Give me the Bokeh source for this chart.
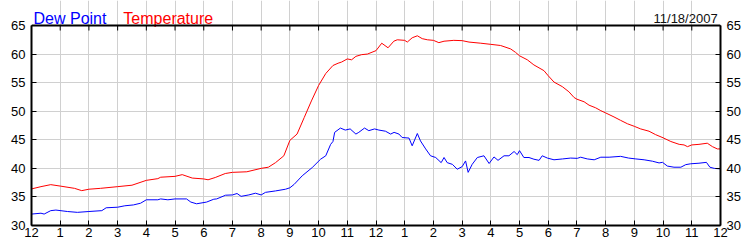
from bokeh.plotting import figure
from bokeh.models import LinearAxis, FixedTicker, Range1d, Span, ColumnDataSource
from bokeh.core.properties import value
from bokeh.embed import file_html
from bokeh.resources import INLINE

# Hours since midnight (11/18/2007) and readings (deg F)
temp_hours = [0.0, 0.33, 0.67, 1.0, 1.5, 1.75, 2.0, 2.4, 3.0, 3.5, 4.0, 4.4, 4.5, 5.0, 5.25,
              5.6, 6.0, 6.15, 6.4, 6.75, 7.0, 7.5, 8.0, 8.25, 8.5, 8.79, 9.0, 9.25, 9.5, 9.75,
              10.0, 10.25, 10.5, 10.68, 10.8, 11.0, 11.15, 11.3, 11.5, 11.7, 12.0, 12.2, 12.42,
              12.62, 12.74, 13.0, 13.09, 13.26, 13.44, 13.61, 13.79, 14.0, 14.19, 14.37, 14.71,
              15.0, 15.24, 15.65, 16.0, 16.34, 16.69, 16.86, 17.0, 17.27, 17.5, 17.85, 18.0,
              18.2, 18.49, 18.72, 18.9, 19.0, 19.25, 19.42, 19.65, 19.83, 20.0, 20.29, 20.52,
              20.76, 21.0, 21.22, 21.51, 21.74, 22.0, 22.27, 22.56, 22.73, 22.85, 23.0, 23.25,
              23.54, 23.72, 23.89, 24.0]
temperature = [36.4, 36.8, 37.15, 36.9, 36.5, 36.1, 36.35, 36.5, 36.8, 37.05, 37.9, 38.2, 38.45,
               38.6, 38.9, 38.3, 38.15, 38.0, 38.4, 39.1, 39.3, 39.4, 40.0, 40.2, 41.0, 42.2,
               44.9, 46.0, 48.9, 51.8, 54.5, 56.6, 58.0, 58.4, 58.6, 59.15, 59.0, 59.6, 59.9,
               60.0, 60.6, 61.9, 61.1, 62.25, 62.5, 62.4, 62.1, 62.85, 63.2, 62.7, 62.5, 62.4,
               62.0, 62.25, 62.4, 62.35, 62.1, 61.9, 61.7, 61.5, 60.9, 60.3, 59.7, 59.0, 58.1,
               57.1, 56.2, 55.1, 54.3, 53.4, 52.4, 52.1, 51.65, 51.06, 50.6, 50.1, 49.7, 49.0,
               48.4, 47.8, 47.35, 46.9, 46.5, 45.9, 45.35, 44.7, 44.2, 44.1, 43.8, 44.1, 44.2,
               44.4, 43.8, 43.4, 43.4]

dew_hours = [0.0, 0.33, 0.44, 0.67, 0.85, 1.25, 1.6, 2.0, 2.45, 2.6, 3.0, 3.25, 3.55, 3.8, 4.0,
             4.4, 4.5, 4.75, 5.0, 5.4, 5.55, 5.75, 6.1, 6.35, 6.45, 6.76, 7.0, 7.16, 7.3, 7.57,
             7.8, 8.0, 8.15, 8.5, 8.85, 9.0, 9.15, 9.43, 9.78, 10.07, 10.25, 10.42, 10.5, 10.56,
             10.76, 10.93, 11.1, 11.3, 11.4, 11.6, 11.75, 11.95, 12.1, 12.33, 12.51, 12.63,
             12.8, 12.91, 13.15, 13.26, 13.44, 13.55, 13.73, 13.9, 14.08, 14.27, 14.37, 14.48,
             14.66, 14.83, 15.0, 15.12, 15.21, 15.35, 15.53, 15.76, 15.94, 16.11, 16.25, 16.46,
             16.63, 16.81, 16.92, 17.0, 17.15, 17.33, 17.5, 17.68, 17.79, 17.97, 18.2, 18.5,
             18.78, 19.01, 19.13, 19.36, 19.6, 19.83, 20.12, 20.52, 20.8, 21.05, 21.34, 21.63,
             21.86, 21.98, 22.15, 22.38, 22.62, 22.79, 22.96, 23.25, 23.51, 23.63, 23.78, 24.0]
dew_point = [32.0, 32.15, 32.0, 32.6, 32.7, 32.45, 32.3, 32.45, 32.6, 33.1, 33.2, 33.45, 33.6,
             33.9, 34.5, 34.5, 34.65, 34.5, 34.65, 34.65, 34.1, 33.8, 34.1, 34.6, 34.65, 35.3,
             35.35, 35.6, 35.1, 35.35, 35.65, 35.35, 35.8, 36.05, 36.35, 36.6, 37.2, 38.7,
             40.15, 41.6, 42.2, 44.2, 44.7, 46.3, 47.05, 46.7, 46.9, 46.0, 46.3, 47.05, 46.6,
             46.9, 46.7, 46.5, 46.0, 46.3, 46.0, 45.4, 45.3, 43.95, 46.1, 44.8, 43.4, 42.2,
             41.9, 41.0, 41.9, 41.0, 40.7, 39.85, 40.3, 41.3, 39.3, 40.7, 41.9, 42.2, 40.85,
             42.0, 41.4, 42.2, 42.2, 42.95, 42.4, 43.1, 41.9, 41.9, 41.6, 41.4, 42.2, 41.8,
             41.5, 41.65, 41.8, 41.75, 41.95, 41.65, 41.5, 41.95, 41.95, 42.1, 41.8, 41.65,
             41.5, 41.25, 40.95, 41.05, 40.4, 40.2, 40.2, 40.65, 40.8, 40.9, 41.05, 40.2, 40.0,
             39.9]

hour_ticks = list(range(0, 25))
hour_labels = ["12", "1", "2", "3", "4", "5", "6", "7", "8", "9", "10", "11",
               "12", "1", "2", "3", "4", "5", "6", "7", "8", "9", "10", "11", "12"]
y_ticks = [30, 35, 40, 45, 50, 55, 60, 65]
y_min, y_max = 30, 65
series_names = ["Dew Point", "Temperature"]
series_colors = ["#0000ff", "#ff0000"]
date_text = "11/18/2007"

FONT = "Liberation Sans"
PX_PER_UNIT = 200 / (y_max - y_min)        # plot area: 200 px tall for 30..65
HEADER = 25 / PX_PER_UNIT                   # header strip above the plot area, in data units
TICK = 5 / PX_PER_UNIT

p = figure(width=750, height=250, output_backend="svg", toolbar_location=None,
           x_range=Range1d(0, 24), y_range=Range1d(y_min, y_max + HEADER),
           min_border_left=31, min_border_right=30, min_border_top=0, min_border_bottom=25,
           x_axis_location=None, y_axis_location=None)
p.outline_line_color = None
p.background_fill_color = "white"
p.border_fill_color = "white"

def style(ax):
    ax.axis_line_color = "black"
    ax.axis_line_width = 2
    ax.major_tick_in = 5
    ax.major_tick_out = 0
    ax.major_tick_line_color = "black"
    ax.minor_tick_line_color = None
    ax.major_label_text_font = FONT
    ax.major_label_text_font_size = "13px"
    ax.major_label_text_color = "#000000"

bottom = LinearAxis(ticker=FixedTicker(ticks=hour_ticks),
                    major_label_overrides={t: l for t, l in zip(hour_ticks, hour_labels)})
style(bottom)
bottom.major_label_standoff = 2
p.add_layout(bottom, "below")

left = LinearAxis(ticker=FixedTicker(ticks=y_ticks), bounds=(y_min, y_max))
style(left)
left.major_label_standoff = 6
p.add_layout(left, "left")

right = LinearAxis(ticker=FixedTicker(ticks=y_ticks), bounds=(y_min, y_max))
style(right)
right.major_label_standoff = 6
p.add_layout(right, "right")

p.xgrid.ticker = FixedTicker(ticks=hour_ticks)
p.xgrid.bounds = (y_min, y_max)
p.ygrid.ticker = FixedTicker(ticks=y_ticks)
p.xgrid.grid_line_color = "#d0d0d0"
p.ygrid.grid_line_color = "#d0d0d0"

# top edge of the plot area with inward ticks
p.add_layout(Span(location=y_max, dimension="width", line_color="black", line_width=2))
p.segment(x0=hour_ticks, y0=[y_max] * len(hour_ticks), x1=hour_ticks,
          y1=[y_max - TICK] * len(hour_ticks), line_color="black", line_width=1)

p.line(dew_hours, dew_point, line_color=series_colors[0], line_width=1)
p.line(temp_hours, temperature, line_color=series_colors[1], line_width=1)

# header: series names (left) and date (right)
head = ColumnDataSource(dict(x=[0.07, 3.2], y=[y_max + 6.7 / PX_PER_UNIT] * 2,
                             text=series_names, color=series_colors))
p.text(x="x", y="y", text="text", text_color="color", source=head,
       text_font=value(FONT), text_font_size="16px", text_baseline="alphabetic",
       text_align="left")
p.text(x=[23.9], y=[y_max + 7.5 / PX_PER_UNIT], text=[date_text], text_color="#101010",
       text_font=value(FONT), text_font_size="13px", text_baseline="alphabetic",
       text_align="right")

open("out.html", "w").write(file_html(p, INLINE))
